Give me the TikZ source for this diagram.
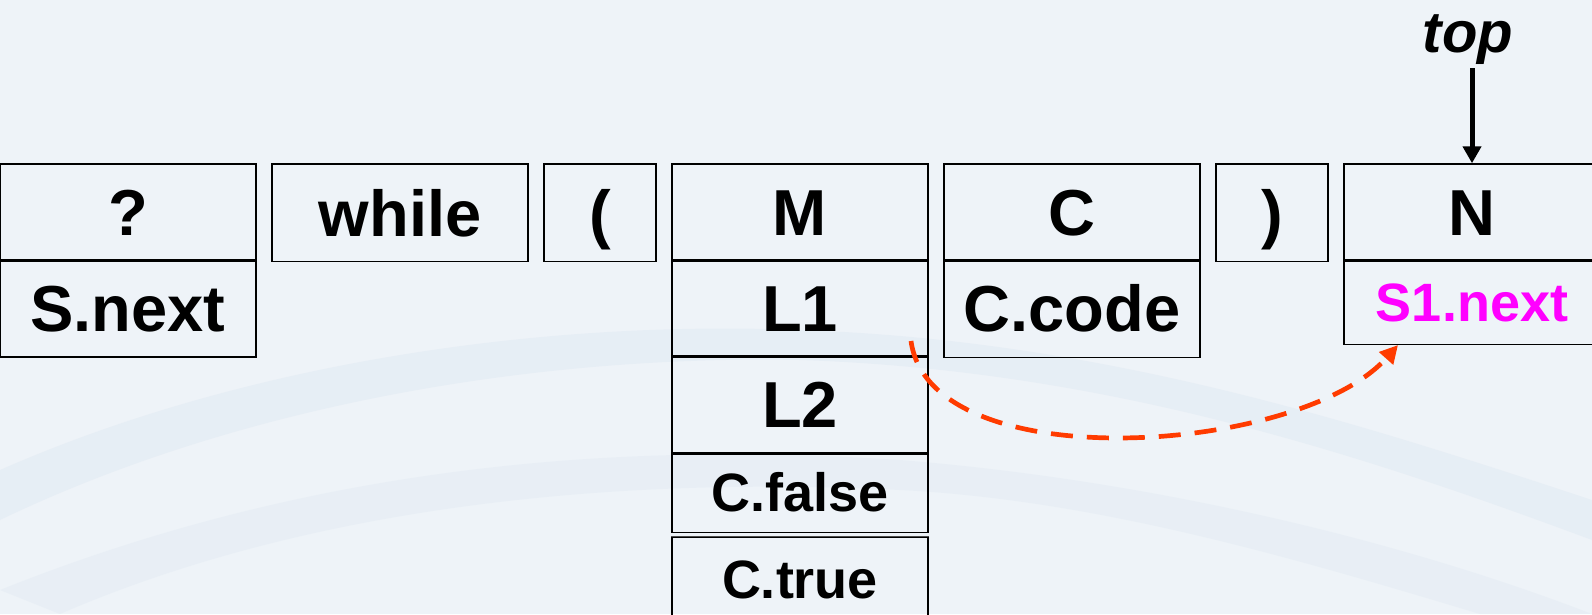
\documentclass[tikz,border=0pt]{standalone}
\usepackage{fontspec}
\setmainfont{Liberation Sans}
\usetikzlibrary{arrows.meta}
\definecolor{bgc}{RGB}{238,243,248}
\definecolor{swc}{RGB}{228,236,244}
\definecolor{redc}{RGB}{255,59,0}
\definecolor{magc}{RGB}{255,0,255}
\newcommand\fbigtxt{\fontsize{65}{78}\selectfont\bfseries}
\newcommand\fsmalltxt{\fontsize{54}{64}\selectfont\bfseries}
\newcommand\ftoptxt{\fontsize{58}{70}\selectfont\bfseries\itshape}
\tikzset{
  cell/.style={draw=black, line width=1.5pt, inner sep=0pt, minimum width=256pt,
    font=\fbigtxt, text height=46.5pt, text depth=0pt},
  cellsmall/.style={cell, font=\fsmalltxt, text height=38.7pt},
  narrow/.style={minimum width=112pt},
  divider/.style={draw=black, line width=3pt},
  thinline/.style={draw=black!70, line width=1.2pt},
  toparrow/.style={draw=black, line width=5pt, -{Triangle[length=17pt,width=18pt]}},
  redarrow/.style={draw=redc, line width=4.7pt, dash pattern=on 22pt off 14pt,
    -{Triangle[length=18pt,width=18pt]}}
}
\begin{document}
\begin{tikzpicture}[x=1pt,y=-1pt]
\useasboundingbox (0,0) rectangle (1592,614);
\clip (0,0) rectangle (1592,614);
\fill[bgc] (0,0) rectangle (1592,614);
% faint background swooshes
\fill[swc, opacity=0.7] (0,470) .. controls (250,360) and (550,320) .. (800,330)
  .. controls (1100,340) and (1350,420) .. (1592,500)
  -- (1592,540) .. controls (1350,450) and (1100,370) .. (800,360)
  .. controls (550,355) and (250,400) .. (0,520) -- cycle;
\fill[swc, opacity=0.6] (0,590) .. controls (300,470) and (600,440) .. (900,460)
  .. controls (1150,480) and (1400,540) .. (1592,614)
  -- (1480,614) .. controls (1300,560) and (1100,500) .. (900,490)
  .. controls (600,475) and (300,510) .. (60,614) -- cycle;

% cells
\node[cell, minimum height=96pt] (q) at (128,212) {?};
\node[cell, minimum height=97pt] (qn) at (128,308.5) {S.next};
\node[cell, minimum height=97.5pt] (wh) at (400,212.75) {while};
\node[cell, narrow, minimum height=97.5pt] (lp) at (600,212.75) {(};
\node[cell, minimum height=96pt] (m) at (800,212) {M};
\node[cell, minimum height=96pt] (l1) at (800,308) {L1};
\node[cell, minimum height=96.7pt] (l2) at (800,404.35) {L2};
\node[cellsmall, minimum height=79.6pt] (cf) at (800,492.5) {C.false};
\node[cellsmall, minimum height=82.7pt] (ct) at (800,578.65) {C.true};
\node[cell, minimum height=96pt] (c) at (1072,212) {C};
\node[cell, minimum height=97.3pt] (cc) at (1072,308.65) {C.code};
\node[cell, narrow, minimum height=97.5pt] (rp) at (1272,212.75) {)};
\node[cell, minimum height=96pt] (n) at (1472,212) {N};
\node[cellsmall, minimum height=84.5pt, text=magc] (s1) at (1472,302.25) {S1.next};

% dividers
\draw[divider] (q.south west) -- (q.south east);
\draw[divider] (m.south west) -- (m.south east);
\draw[divider] (l1.south west) -- (l1.south east);
\draw[divider] (l2.south west) -- (l2.south east);
\draw[divider] (c.south west) -- (c.south east);
\draw[divider] (n.south west) -- (n.south east);
\draw[thinline] (ct.north west) -- (ct.north east);

% top label and arrow
\node[font=\ftoptxt, anchor=base, inner sep=0pt] (tl) at (1468,52) {top};
\coordinate (ts) at ([yshift=-4pt]tl.south);
\draw[toparrow] (ts -| n.north) -- (n.north);

% red dashed arrow
\coordinate (rs) at (911,341);
\coordinate (re) at (1398,345);
\draw[redarrow] (rs) .. controls (930,480) and (1300,455) .. (re);
\end{tikzpicture}
\end{document}
